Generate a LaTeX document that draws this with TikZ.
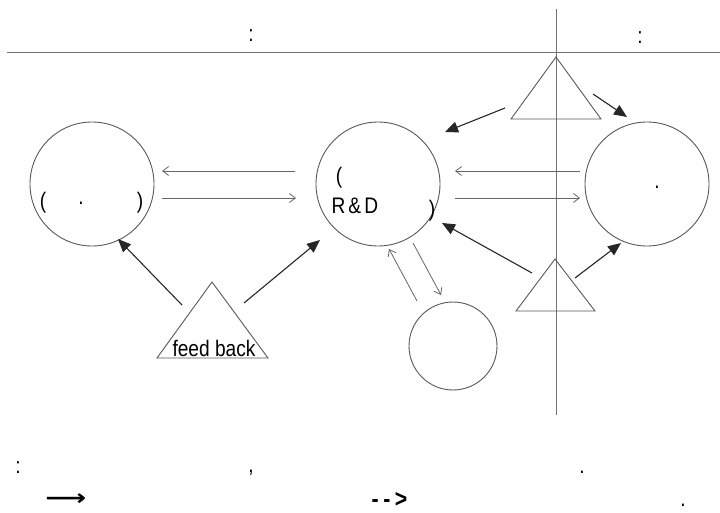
\documentclass[tikz,border=0pt]{standalone}
\usepackage{fontspec}
\setmainfont[FakeStretch=0.85]{Liberation Sans}
\newfontfamily\symfont{DejaVu Sans}
\usetikzlibrary{arrows.meta}
\begin{document}
\begin{tikzpicture}[x=1pt,y=-1pt,
  shapeline/.style={draw=black!65, line width=0.9pt},
  bigcircle/.style={circle, shapeline, minimum size=124pt, inner sep=0pt},
  guide/.style={draw=black!55, line width=0.8pt},
  flow/.style={draw=black!60, line width=0.8pt, -{Straight Barb[length=6pt,width=9pt]}},
  push/.style={draw=black!85, line width=1.1pt, -{Triangle[length=13pt,width=11pt]}},
  lbl/.style={inner sep=0pt, font=\fontsize{22.5}{25}\selectfont},
]
\useasboundingbox (0,0) rectangle (720,512);
\fill[white] (0,0) rectangle (720,512);

% guide lines
\coordinate (hl) at (7,52);
\coordinate (hr) at (720,52);
\coordinate (vt) at (556,9);
\coordinate (vb) at (556,415);
\draw[guide] (hl) -- (hr);
\draw[guide] (vt) -- (vb);

% top labels
\node[lbl] (c1) at (251,36) {:};
\node[lbl] (c2) at (640,38) {:};

% circles
\node[bigcircle] (L) at (92,184) {};
\node[bigcircle] (M) at (378,184) {};
\node[bigcircle] (R) at (647,184) {};
\node[circle, shapeline, minimum size=88pt, inner sep=0pt] (S) at (453,346) {};

% texts in circles
\node[lbl] (lp1) at (43,202.5) {(};
\node[lbl] (ld) at (81,203) {.};
\node[lbl] (lp2) at (140,202.5) {)};
\node[lbl] (mp1) at (339,177.5) {(};
\node[lbl, anchor=base west] (mrd) at (331.5,213) {R\kern3pt\&\kern3pt D};
\node[lbl] (mp2) at (432,211) {)};
\node[lbl] (rd) at (657,187) {.};

% triangles
\coordinate (ta) at (556,57);
\coordinate (tl) at (511,119);
\coordinate (tr) at (601,119);
\draw[shapeline] (ta) -- (tl) -- (tr) -- cycle;
\coordinate (ba) at (555,259);
\coordinate (bl) at (516,311);
\coordinate (br) at (595,311);
\draw[shapeline] (ba) -- (bl) -- (br) -- cycle;
\coordinate (fa) at (212,282);
\coordinate (fl) at (157,358);
\coordinate (fr) at (268,358);
\draw[shapeline] (fa) -- (fl) -- (fr) -- cycle;
\node[lbl, anchor=base] (fb) at (214,356.5) {feed back};

% black arrows
\coordinate (p1a) at (182,305); \coordinate (p1b) at (118,239);
\coordinate (p2a) at (244,303); \coordinate (p2b) at (320,240);
\coordinate (p3a) at (505,108); \coordinate (p3b) at (445,132);
\coordinate (p4a) at (593,94);  \coordinate (p4b) at (627,117);
\coordinate (p5a) at (532,273); \coordinate (p5b) at (442,223);
\coordinate (p6a) at (575,278); \coordinate (p6b) at (621,243);
\draw[push] (p1a) -- (p1b);
\draw[push] (p2a) -- (p2b);
\draw[push] (p3a) -- (p3b);
\draw[push] (p4a) -- (p4b);
\draw[push] (p5a) -- (p5b);
\draw[push] (p6a) -- (p6b);

% gray flows
\coordinate (f1a) at (295,171); \coordinate (f1b) at (162,171);
\coordinate (f2a) at (162,198); \coordinate (f2b) at (296,198);
\coordinate (f3a) at (580,171); \coordinate (f3b) at (455,171);
\coordinate (f4a) at (455,198); \coordinate (f4b) at (580,198);
\coordinate (f5a) at (413,243); \coordinate (f5b) at (441,295);
\coordinate (f6a) at (417,301); \coordinate (f6b) at (389,249);
\draw[flow] (f1a) -- (f1b);
\draw[flow] (f2a) -- (f2b);
\draw[flow] (f3a) -- (f3b);
\draw[flow] (f4a) -- (f4b);
\draw[flow] (f5a) -- (f5b);
\draw[flow] (f6a) -- (f6b);

% bottom legend
\node[lbl] (b1) at (18,468) {:};
\node[lbl] (b2) at (251,473) {,};
\node[lbl] (b3) at (582,472) {.};
\node[lbl, font=\fontsize{22}{24}\symfont\bfseries] (b4) at (66,500) {\scalebox{1.3}[1]{⟶}};
\node[lbl, font=\fontsize{25}{28}\selectfont\bfseries] (b5) at (389.5,500) {-\kern4.5pt-\kern4.5pt>};
\node[lbl] (b6) at (683,505) {.};
\end{tikzpicture}
\end{document}
